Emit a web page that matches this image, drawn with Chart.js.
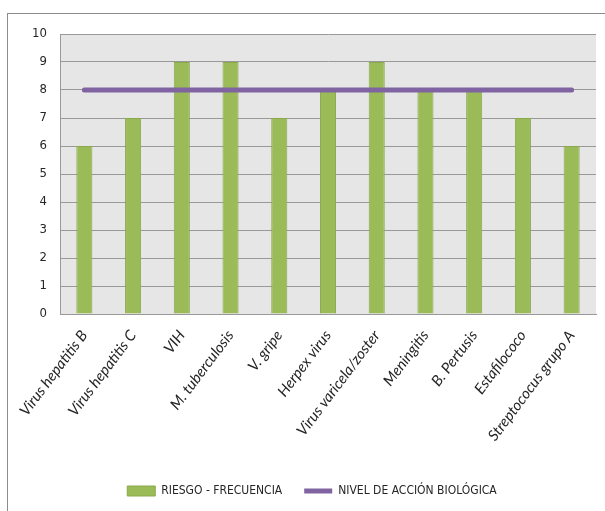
<!DOCTYPE html>
<html>
<head>
<meta charset="utf-8">
<script src="https://cdn.jsdelivr.net/npm/chart.js@4"></script>
<style>
  body { margin: 0; background: #fff; overflow: hidden; }
  #frame { position: absolute; left: 7px; top: 13px; width: 640px; height: 540px; border: 1px solid #8c8c8c; }
  #riesgo-chart { position: absolute; left: 0; top: 0; }
</style>
</head>
<body>
<div id="frame"></div>
<canvas id="riesgo-chart" width="605" height="511"></canvas>
<script>
const agentes = ["Virus hepatitis B", "Virus hepatitis C", "VIH", "M. tuberculosis",
    "V. gripe", "Herpex virus", "Virus varicela/zoster", "Meningitis",
    "B. Pertusis", "Estafilococo", "Streptococus grupo A"];
const riesgo = [6, 7, 9, 9, 7, 8, 9, 8, 8, 7, 6];
const nivelAccion = [8, 8, 8, 8, 8, 8, 8, 8, 8, 8, 8];
const yTicks = [0, 1, 2, 3, 4, 5, 6, 7, 8, 9, 10];

const narrowFont = "'DejaVu Sans Condensed', 'Liberation Sans', sans-serif";

const plotBackground = {
    id: 'plotBackground',
    beforeDraw(chart) {
        const {ctx, chartArea: a} = chart;
        ctx.save();
        ctx.fillStyle = '#e6e6e6';
        ctx.fillRect(a.left, a.top, a.right - a.left, a.bottom - a.top);
        ctx.restore();
    }
};

const riesgoCanvas = document.getElementById("riesgo-chart");
let riesgoChart = new Chart(riesgoCanvas, {
    data: {
        labels: agentes,
        datasets: [{
            type: 'bar',
            label: 'RIESGO - FRECUENCIA',
            data: riesgo,
            backgroundColor: '#9bbb59',
            borderColor: '#8aa94c',
            borderWidth: 1,
            barPercentage: 0.33,
            categoryPercentage: 1,
            pointStyle: 'rect',
            order: 2
        }, {
            type: 'line',
            label: 'NIVEL DE ACCIÓN BIOLÓGICA',
            data: nivelAccion,
            borderColor: '#8064a2',
            backgroundColor: '#8064a2',
            borderWidth: 5,
            borderCapStyle: 'round',
            pointRadius: 0,
            pointStyle: 'line',
            order: 1
        }]
    },
    options: {
        responsive: false,
        animation: false,
        layout: {
            padding: { left: 28, right: 9, top: 34, bottom: 4 }
        },
        scales: {
            x: {
                grid: { display: false },
                border: { color: '#999999' },
                ticks: {
                    minRotation: 53,
                    maxRotation: 53,
                    padding: 5,
                    color: '#262626',
                    font: { family: 'Lato', style: 'italic', size: 15 }
                },
                afterFit: (s) => { s.height = 149; }
            },
            y: {
                min: 0,
                max: 10,
                afterBuildTicks: (s) => { s.ticks = yTicks.map(v => ({ value: v })); },
                grid: { color: '#999999', drawTicks: false },
                border: { color: '#999999' },
                ticks: {
                    padding: 13,
                    color: '#262626',
                    font: { family: narrowFont, size: 13 }
                },
                afterFit: (s) => { s.width = 32; }
            }
        },
        plugins: {
            legend: {
                position: 'bottom',
                labels: {
                    usePointStyle: true,
                    pointStyleWidth: 28,
                    boxHeight: 10,
                    padding: 22,
                    color: '#262626',
                    font: { family: narrowFont, size: 12 },
                    sort: (a, b) => a.datasetIndex - b.datasetIndex
                }
            },
            tooltip: { enabled: false }
        }
    },
    plugins: [plotBackground]
});
</script>
</body>
</html>
